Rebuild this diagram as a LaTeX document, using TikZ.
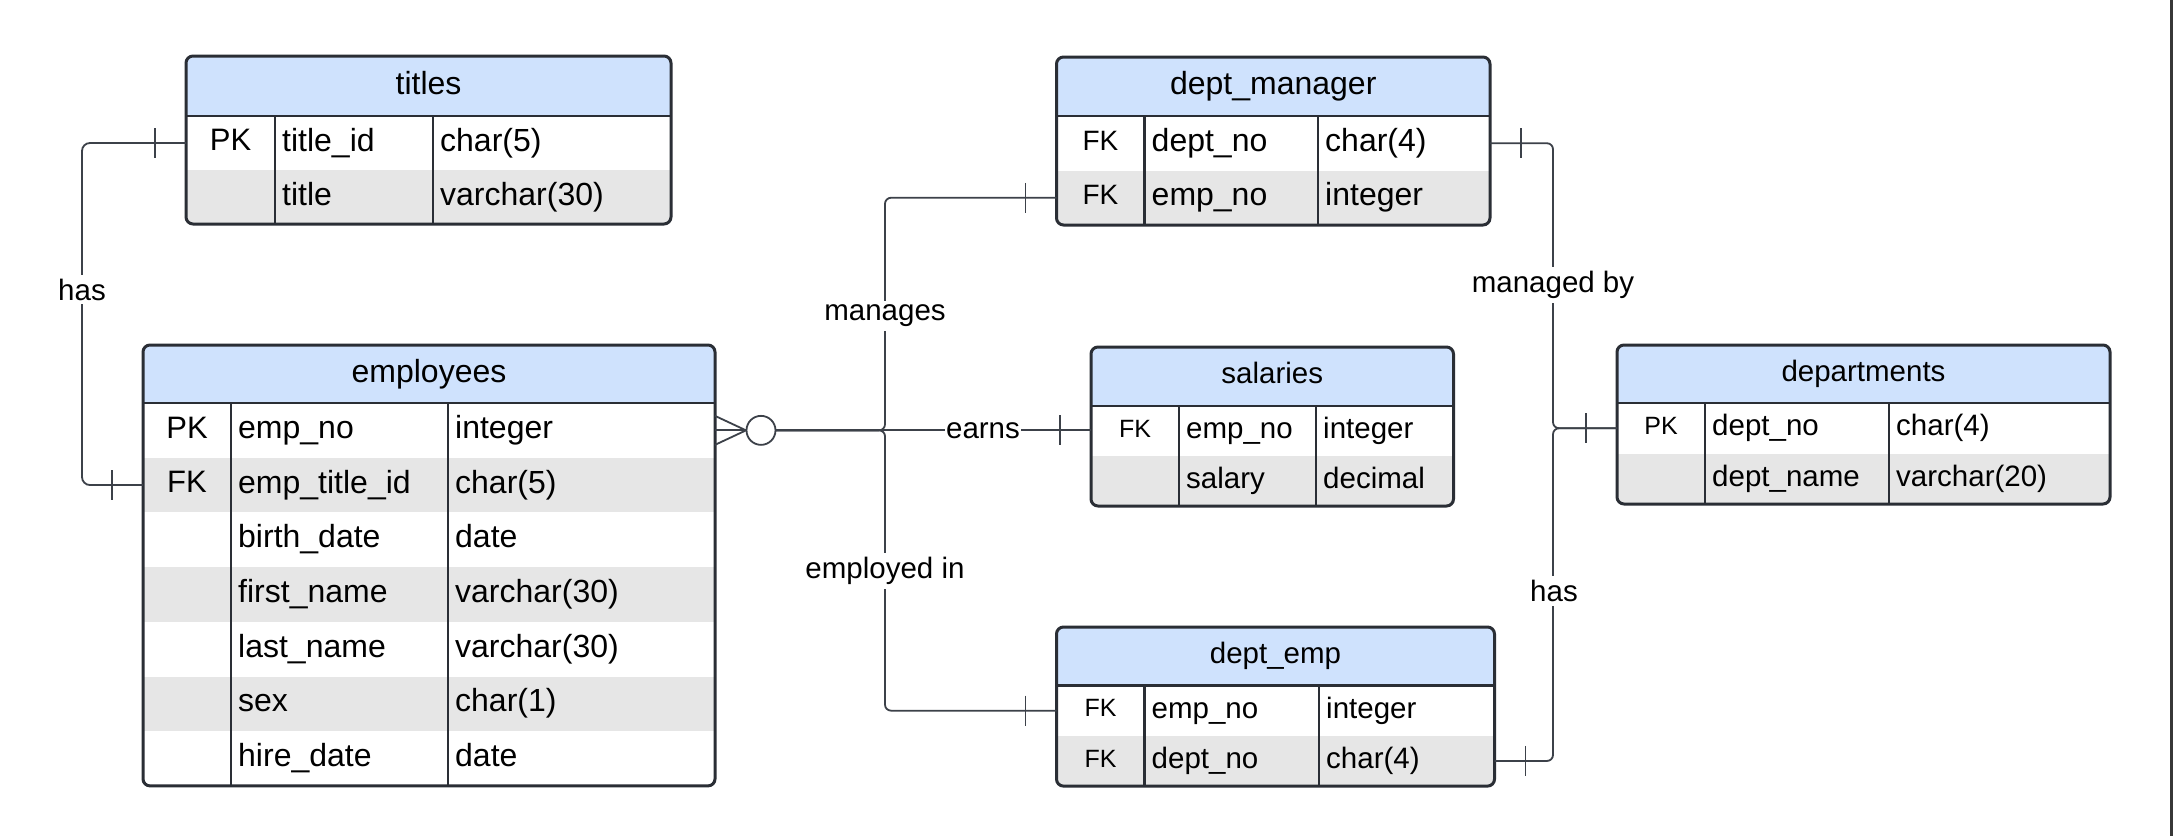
\documentclass[tikz,border=0pt]{standalone}
\usepackage{fontspec}
\setmainfont{Liberation Sans}
\usetikzlibrary{calc}
\definecolor{hdrblue}{HTML}{CFE2FD}
\definecolor{rowgray}{HTML}{E6E6E6}
\definecolor{bordc}{HTML}{2A2E35}
\definecolor{connc}{HTML}{3C4149}
\newcommand{\erdfs}[1]{\fontsize{#1}{#1}\selectfont}

\tikzset{
  tblframe/.style={draw=bordc, line width=3pt, rounded corners=7pt, inner sep=0pt, outer sep=0pt},
  rowcell/.style={inner sep=0pt, outer sep=0pt},
  divline/.style={draw=bordc, line width=2.6pt},
  connline/.style={draw=connc, line width=1.8pt},
  relabel/.style={fill=white, inner sep=4pt, font=\erdfs{29.5}, text=black},
  celltext/.style={inner sep=0pt, text=black},
}

% #1 name, #2 L/T/R/H/rowh/n/c1/c2, #3 header, #4 headsize/keysize/fieldsize, #5 rows key/field/type
\newcommand{\erdtable}[5]{%
 \foreach \eL/\eT/\eR/\eH/\eh/\en/\eca/\ecb in {#2} {%
  \foreach \ehs/\eks/\efs in {#4} {%
   \pgfmathsetmacro{\eB}{\eH+\en*\eh}
   \begin{scope}
    \clip[rounded corners=7pt] (\eL,\eT) rectangle (\eR,\eB);
    \fill[hdrblue] (\eL,\eT) rectangle (\eR,\eH);
    \foreach \k in {2,4,...,\en} {\fill[rowgray] (\eL,{\eH+(\k-1)*\eh}) rectangle (\eR,{\eH+\k*\eh});}
   \end{scope}
   \draw[divline] (\eL,\eH) -- (\eR,\eH);
   \draw[divline] (\eca,\eH) -- (\eca,\eB);
   \draw[divline] (\ecb,\eH) -- (\ecb,\eB);
   \node[tblframe, minimum width={(\eR-\eL)*1pt}, minimum height={(\eB-\eT)*1pt}, anchor=north west] (#1) at (\eL,\eT) {};
   \node[celltext, anchor=base, font=\erdfs{\ehs}] (#1-name) at ({(\eL+\eR)/2},{(\eT+\eH)/2+0.25*\ehs}) {#3};
   \foreach [count=\k] \ea/\eb/\ec in {#5} {%
     \node[rowcell, minimum width={(\eR-\eL)*1pt}, minimum height={\eh*1pt}, anchor=north west] (#1-\k) at (\eL,{\eH+(\k-1)*\eh}) {};
     \node[celltext, anchor=base, font=\erdfs{\eks}] (#1-key\k) at ({(\eL+\eca)/2},{\eH+(\k-0.5)*\eh+0.25*\eks}) {\ea};
     \node[celltext, anchor=base west, font=\erdfs{\efs}] (#1-field\k) at ({\eca+7},{\eH+(\k-0.5)*\eh+0.25*\efs}) {\eb};
     \node[celltext, anchor=base west, font=\erdfs{\efs}] (#1-type\k) at ({\ecb+7},{\eH+(\k-0.5)*\eh+0.25*\efs}) {\ec};
   }%
  }%
 }%
}

\begin{document}
\begin{tikzpicture}[x=1pt, y=-1pt]
\fill[white] (0,0) rectangle (2174,836);
\useasboundingbox (0,0) rectangle (2174,836);
\draw[line width=3pt, draw=black!78] (2171.5,0) -- (2171.5,836);

\erdtable{titles}{186/56/671/116/54/2/275/433}{titles}{32/31/32}
  {PK/title\_id/char(5), /title/varchar(30)}
\erdtable{employees}{143/345/715/403/54.7/7/231/448}{employees}{32/31/32}
  {PK/emp\_no/integer, FK/emp\_title\_id/char(5), /birth\_date/date, /first\_name/varchar(30), /last\_name/varchar(30), /sex/char(1), /hire\_date/date}
\erdtable{deptmgr}{1056.5/57/1490/116/54.5/2/1144.5/1318}{dept\_manager}{32/28/32}
  {FK/dept\_no/char(4), FK/emp\_no/integer}
\erdtable{salaries}{1091/347/1453.5/406/50/2/1179/1316}{salaries}{29.5/25/29.5}
  {FK/emp\_no/integer, /salary/decimal}
\erdtable{departments}{1617/345/2110/403/50.5/2/1705/1889}{departments}{29.5/25/29.5}
  {PK/dept\_no/char(4), /dept\_name/varchar(20)}
\erdtable{deptemp}{1056.5/627/1494.5/685.5/50.3/2/1144.5/1319}{dept\_emp}{29.5/25/29.5}
  {FK/emp\_no/integer, FK/dept\_no/char(4)}

\coordinate (hasx) at (82,0);
\coordinate (mgx) at (885,0);
\coordinate (dpx) at (1553,0);

% titles -- employees
\draw[connline, rounded corners=8pt] (titles-1.west) -- (titles-1.west -| hasx) |- (employees-2.west);
\draw[connline] ($(titles-1.west)+(-31,-15)$) -- ($(titles-1.west)+(-31,15)$);
\draw[connline] ($(employees-2.west)+(-31,-15)$) -- ($(employees-2.west)+(-31,15)$);
\node[relabel] (lhasA) at (82,289.5) {has};

% crow's foot zero-or-many at employees
\draw[connline] ($(employees-1.east)+(0,-14.5)$) -- ($(employees-1.east)+(31,0)$) -- ($(employees-1.east)+(0,14.5)$);
\draw[connline] (employees-1.east) -- ++(31,0);
\node[circle, draw=connc, fill=white, line width=1.8pt, minimum size=29pt, inner sep=0pt, outer sep=0pt] (cf) at ($(employees-1.east)+(46,0)$) {};

% earns
\draw[connline] (cf.east) -- (cf.east -| salaries-1.west);
\draw[connline] ($(cf.east -| salaries-1.west)+(-31,-15)$) -- ($(cf.east -| salaries-1.west)+(-31,15)$);
\node[relabel, inner xsep=1pt] (learns) at (983,431) {earns};

% manages
\draw[connline, rounded corners=6pt] (cf.east) -- (cf.east -| mgx) |- (deptmgr-2.west);
\draw[connline] ($(deptmgr-2.west)+(-31,-15)$) -- ($(deptmgr-2.west)+(-31,15)$);
\node[relabel] (lmanages) at (885,316) {manages};

% employed in
\draw[connline, rounded corners=6pt] (cf.east) -- (cf.east -| mgx) |- (deptemp-1.west);
\draw[connline] ($(deptemp-1.west)+(-31,-15)$) -- ($(deptemp-1.west)+(-31,15)$);
\node[relabel] (lemployed) at (885,571) {employed in};

% managed by
\draw[connline, rounded corners=6pt] (deptmgr-1.east) -| (departments-1.west -| dpx) -- (departments-1.west);
\draw[connline] ($(deptmgr-1.east)+(31,-15)$) -- ($(deptmgr-1.east)+(31,15)$);
\draw[connline] ($(departments-1.west)+(-31,-15)$) -- ($(departments-1.west)+(-31,15)$);
\node[relabel] (lmanagedby) at (1553,285) {managed by};

% has (dept_emp -- departments)
\draw[connline, rounded corners=6pt] (deptemp-2.east) -| (departments-1.west -| dpx) -- (departments-1.west);
\draw[connline] ($(deptemp-2.east)+(31,-15)$) -- ($(deptemp-2.east)+(31,15)$);
\node[relabel] (lhasB) at (1554,591) {has};
\end{tikzpicture}
\end{document}
